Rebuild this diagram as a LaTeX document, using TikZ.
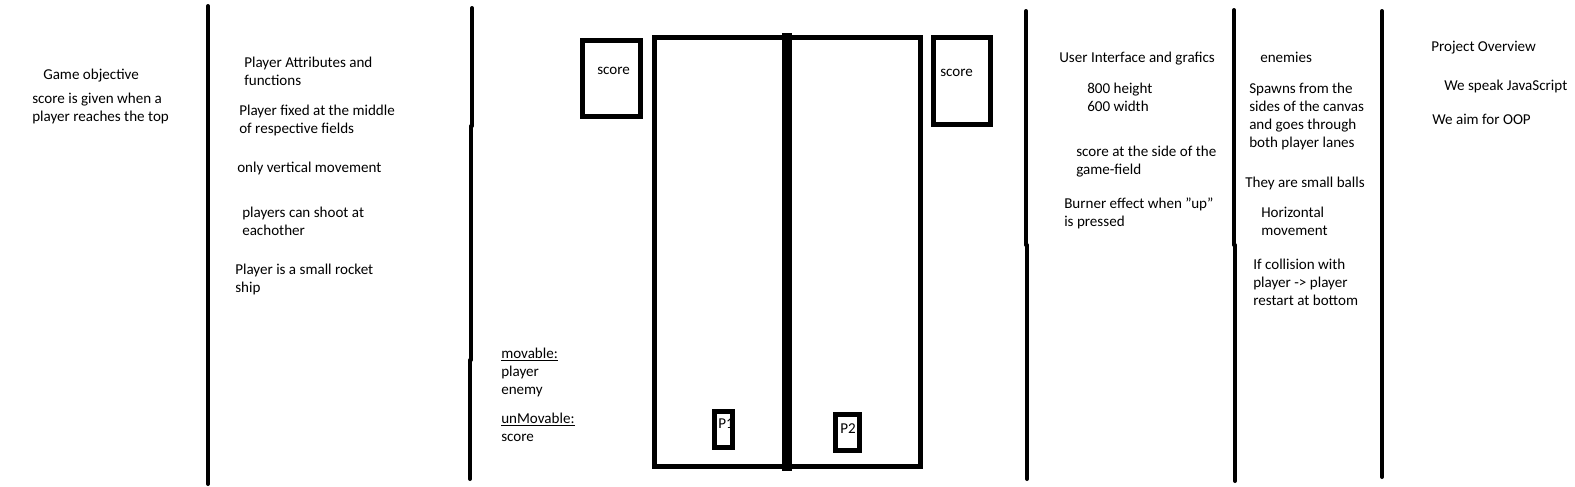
\documentclass[tikz,border=0pt]{standalone}
\usepackage{fontspec}
\setmainfont{Carlito}[Ligatures=ResetAll]
\begin{document}
\begin{tikzpicture}[x=0.75pt,y=-0.75pt,
  txt/.style={font=\fontsize{11.3}{13.5}\selectfont, inner sep=0pt, align=left, anchor=base west},
  sepline/.style={line width=3pt, line cap=round},
  boxline/.style={draw, line width=3.75pt}]
\useasboundingbox (0,0) rectangle (1575,486);
\fill[white] (0,0) rectangle (1575,486);

% separators
\draw[sepline] (208,6) -- (208,484);
\draw[sepline] (472,8) -- (472,126) (471,126) -- (471,360) (470,360) -- (470,479);
\draw[sepline] (1026,11) -- (1026,245) (1027,245) -- (1027,479);
\draw[sepline] (1234,10) -- (1234,245) (1235,245) -- (1235,481);
\draw[sepline] (1382,11) -- (1382,477);

% column 1 (anchor = baseline of last line)
\node[txt] (go) at (43,79) {Game objective};
\node[txt] (gos) at (32,121) {score is given when a\\player reaches the top};

% column 2
\node[txt] (pa) at (244,85) {Player Attributes and\\functions};
\node[txt] (pf) at (239,133) {Player fixed at the middle\\of respective fields};
\node[txt] (pv) at (237,172) {only vertical movement};
\node[txt] (ps) at (242,235) {players can shoot at\\eachother};
\node[txt] (pr) at (235,292) {Player is a small rocket\\ship};

% column 3: game field
\draw[boxline] (582.5,40.5) rectangle (640,116.5);
\node[txt] (s1) at (597,74.5) {score};
\draw[boxline] (654.5,37.5) rectangle (920.5,466.5);
\draw[line width=7.5pt] (787,33) -- (787,471);
\draw[boxline] (933.5,37.5) rectangle (990,124.5);
\node[txt] (s2) at (940,76.5) {score};
\node[txt] (p1) at (718,428.5) {P1};
\draw[boxline] (714,411) rectangle (732,447);
\draw[boxline] (835.5,414) rectangle (859,450.5);
\node[txt] (p2) at (840,433.5) {P2};

\node[txt] (mv) at (501,394.5) {\underline{movable:}\\player\\enemy};
\node[txt] (um) at (501,441.5) {\underline{unMovable:}\\score};

% column 4
\node[txt] (ui) at (1059,62) {User Interface and grafics};
\node[txt] (hw) at (1087,111) {800 height\\600 width};
\node[txt] (sg) at (1076,174) {score at the side of the\\game-field};
\node[txt] (be) at (1064,226) {Burner effect when "up"\\is pressed};

% column 5
\node[txt] (en) at (1260,62) {enemies};
\node[txt] (sp) at (1249,147) {Spawns from the\\sides of the canvas\\and goes through\\both player lanes};
\node[txt] (sb) at (1245,187) {They are small balls};
\node[txt] (hm) at (1261,235) {Horizontal\\movement};
\node[txt] (co) at (1253,305) {If collision with\\player -> player\\restart at bottom};

% column 6
\node[txt] (po) at (1431,51) {Project Overview};
\node[txt] (js) at (1444,90) {We speak JavaScript};
\node[txt] (oo) at (1432,124) {We aim for OOP};
\end{tikzpicture}
\end{document}
